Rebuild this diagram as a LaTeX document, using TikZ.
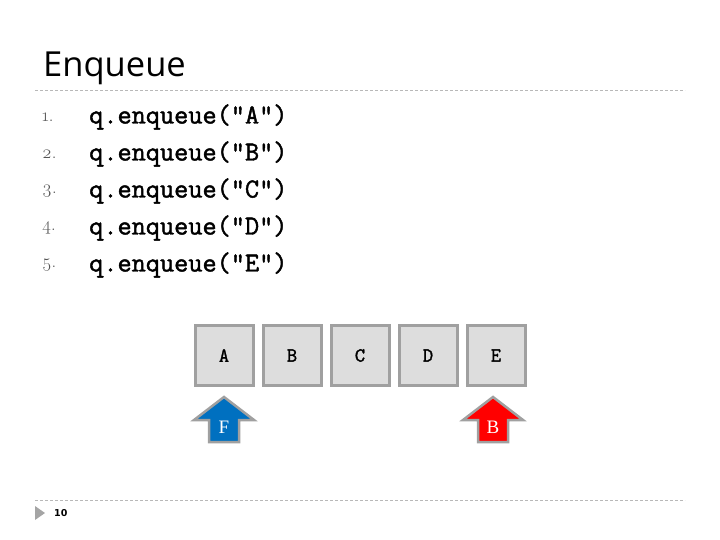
\documentclass[tikz,border=0pt]{standalone}
\usepackage{fontspec}
\setmainfont{Liberation Serif}
\newfontfamily\titlefont{Open Sans}
\newfontfamily\codefont{Latin Modern Mono}[FakeBold=1.6]
\newfontfamily\numfont{Latin Modern Roman}[Numbers=OldStyle]
\newfontfamily\smallsans{DejaVu Sans}
\definecolor{rulegray}{HTML}{B8B8B8}
\definecolor{boxfill}{HTML}{DDDDDD}
\definecolor{boxline}{HTML}{A0A0A0}
\definecolor{numgray}{HTML}{555555}
\definecolor{frontblue}{HTML}{0070C0}
\definecolor{backred}{HTML}{FF0000}
\tikzset{
  cell/.style={draw=boxline, line width=3pt, fill=boxfill, minimum width=58pt, minimum height=60pt, inner sep=0pt, font=\codefont\fontsize{20}{20}\selectfont},
  codeline/.style={anchor=west, inner sep=0pt, font=\codefont\fontsize{27.5}{28}\selectfont},
  numlabel/.style={anchor=west, inner sep=0pt, text=numgray, font=\numfont\fontsize{18.5}{18.5}\selectfont},
  ptrarrow/.style={draw=boxline, line width=2.5pt, line join=miter},
  ptrlabel/.style={text=white, inner sep=0pt, font=\fontsize{19}{19}\selectfont},
  rule/.style={draw=rulegray, dashed, dash pattern=on 3pt off 2pt, line width=0.8pt}
}
\begin{document}
\begin{tikzpicture}[x=1pt,y=-1pt]
\useasboundingbox (0,0) rectangle (720,540);
% title
\node[anchor=base west, inner sep=0pt, font=\titlefont\fontsize{34.5}{34.5}\selectfont] (title) at (43,77) {Enqueue};
\draw[rule] (35,90) -- (685,90);
% code lines
\foreach \i/\l in {1/A,2/B,3/C,4/D,5/E}{
  \node[numlabel] (n\i) at (42,{80+37*\i}) {\i.};
  \node[codeline] (c\i) at (89,{80+37*\i}) {q.enqueue("\l")};
}
% cells
\foreach \i/\l in {0/A,1/B,2/C,3/D,4/E}{
  \node[cell] (cell\l) at ({224+68*\i},355.5) {\l};
}
% front arrow
\filldraw[ptrarrow, fill=frontblue] (224,397) -- (254,420) -- (239,420) -- (239,442) -- (209,442) -- (209,420) -- (194,420) -- cycle;
\node[ptrlabel] (front) at (224,427) {F};
% back arrow
\filldraw[ptrarrow, fill=backred] (493,397) -- (523,420) -- (508,420) -- (508,442) -- (478,442) -- (478,420) -- (463,420) -- cycle;
\node[ptrlabel] (back) at (493,427) {B};
% footer
\draw[rule] (35,500) -- (685,500);
\fill[rulegray!90!black] (35,506) -- (45,513) -- (35,520) -- cycle;
\node[anchor=west, inner sep=0pt, font=\smallsans\bfseries\fontsize{9.5}{10}\selectfont] (page) at (54,513.5) {10};
\end{tikzpicture}
\end{document}
